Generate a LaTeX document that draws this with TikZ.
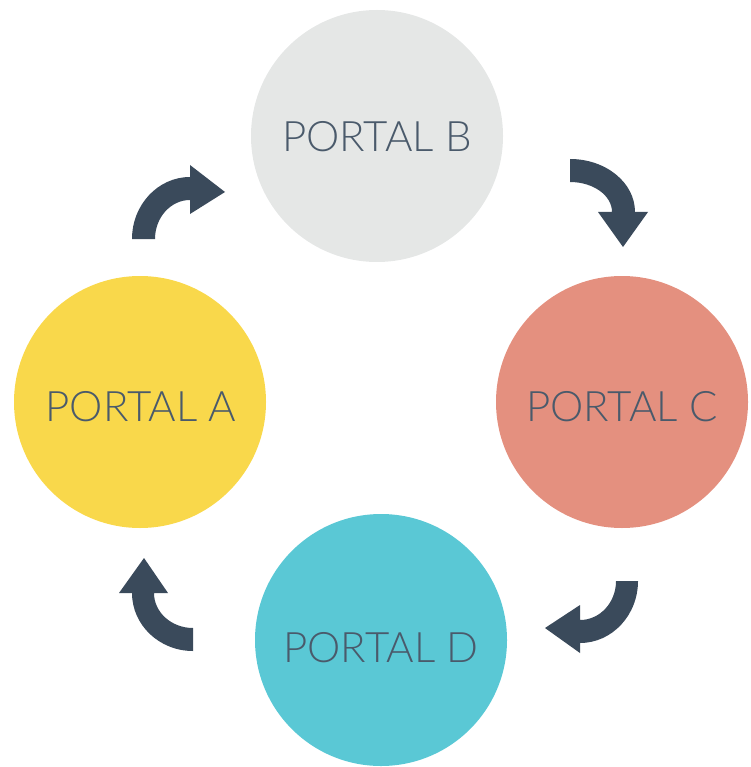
\documentclass[tikz,border=0pt]{standalone}
\usepackage{fontspec}
\setmainfont{Lato Light}
\definecolor{arrowcol}{HTML}{3A4A5B}
\definecolor{textcol}{HTML}{4A5A6B}
\definecolor{portalA}{HTML}{F9D84B}
\definecolor{portalB}{HTML}{E5E7E6}
\definecolor{portalC}{HTML}{E4907F}
\definecolor{portalD}{HTML}{5AC8D5}
\begin{document}
\begin{tikzpicture}[x=1pt,y=-1pt,
  portal/.style={circle,minimum size=252pt,inner sep=0pt,draw=none},
  label/.style={text=textcol,font=\fontsize{42}{42}\selectfont,inner sep=0pt,anchor=center},
  blockarrow/.style={fill=arrowcol,draw=none}]
\useasboundingbox (0,0) rectangle (750,767);

% the four portals
\node[portal,fill=portalB] (B) at (377,136) {};
\node[portal,fill=portalA] (A) at (140,402) {};
\node[portal,fill=portalC] (C) at (622,402) {};
\node[portal,fill=portalD] (D) at (381,640) {};

\node[label] (tB) at (377,136.5) {PORTAL B};
\node[label] (tA) at (141,406.5) {PORTAL A};
\node[label] (tC) at (622,406.5) {PORTAL C};
\node[label] (tD) at (381,648) {PORTAL D};

% curved block arrows between the portals
% A -> B
\fill[blockarrow] (132,239) .. controls (132,204.8) and (158,177) .. (190,177)
  -- (190,165) -- (225,192) -- (190,214) -- (190,200)
  .. controls (170.7,200) and (155,217.5) .. (155,239) -- cycle;
% B -> C
\fill[blockarrow] (570,159) .. controls (605.9,159) and (635,182.7) .. (635,212)
  -- (648,212) -- (623,247) -- (598,212) -- (612,212)
  .. controls (612,195.4) and (593.2,182) .. (570,182) -- cycle;
% C -> D
\fill[blockarrow] (638,581) .. controls (638,615.2) and (612,643) .. (580,643)
  -- (580,653) -- (545,628) -- (580,605) -- (580,620)
  .. controls (599.9,620) and (616,602.5) .. (616,581) -- cycle;
% D -> A
\fill[blockarrow] (193,651) .. controls (159.3,651) and (132,625) .. (132,593)
  -- (119,593) -- (144,558) -- (168,593) -- (154,593)
  .. controls (154,612.3) and (171.5,628) .. (193,628) -- cycle;
\end{tikzpicture}
\end{document}
